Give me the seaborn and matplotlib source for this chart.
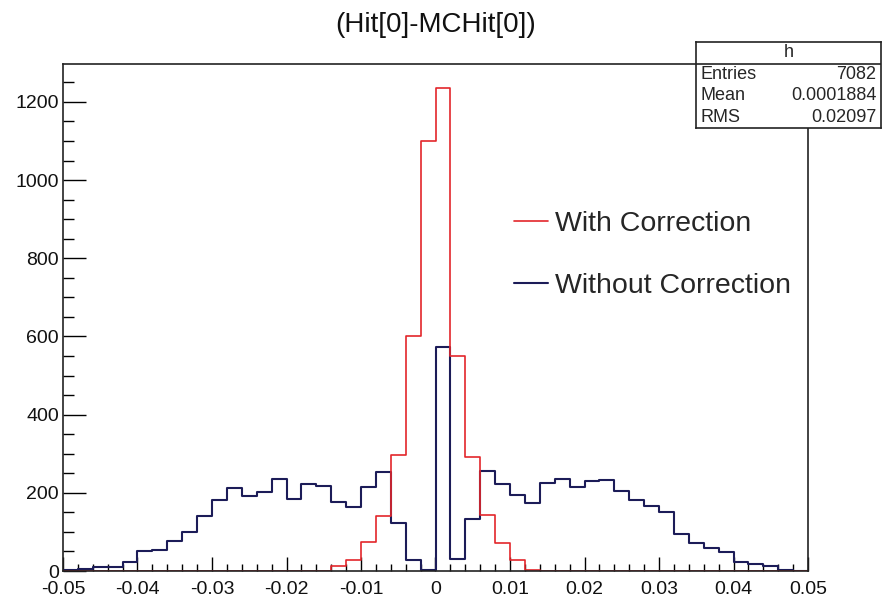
import numpy as np
import pandas as pd
import matplotlib
matplotlib.use("Agg")
import matplotlib.pyplot as plt
from matplotlib.ticker import MultipleLocator, FuncFormatter
import seaborn as sns

# binning of the histogram h (50 bins over [-0.05, 0.05])
x_lo, x_hi, n_bins = -0.05, 0.05, 50

# bin contents
with_corr = [0, 0, 0, 0, 0, 0, 0, 0, 0, 0,
             0, 0, 0, 0, 0, 0, 0, 0, 13, 27,
             74, 141, 297, 600, 1099, 1235, 549, 292, 144, 71,
             27, 3, 0, 0, 0, 0, 0, 0, 0, 0,
             0, 0, 0, 0, 0, 0, 0, 0, 0, 0]
without_corr = [2, 6, 9, 9, 22, 50, 54, 78, 99, 140,
                181, 212, 191, 202, 236, 184, 222, 218, 177, 164,
                216, 253, 123, 27, 2, 573, 31, 134, 257, 222,
                194, 174, 226, 236, 215, 229, 234, 205, 182, 167,
                150, 95, 72, 58, 48, 24, 18, 14, 3, 0]

title = "(Hit[0]-MCHit[0])"
series_names = ["With Correction", "Without Correction"]
stats_name = "h"
stats_rows = [("Entries", "7082"), ("Mean", "0.0001884"), ("RMS", "0.02097")]

sns.set_style("ticks")
plt.rcParams["font.family"] = ["Liberation Sans", "DejaVu Sans"]
plt.rcParams["axes.unicode_minus"] = False

edges = np.linspace(x_lo, x_hi, n_bins + 1)
centers = 0.5 * (edges[:-1] + edges[1:])
df = pd.DataFrame({"x": centers, "with": with_corr, "without": without_corr})

fig = plt.figure(figsize=(8.82, 6.0), dpi=100)
ax = fig.add_axes([63 / 882, 29 / 600, 745 / 882, 507 / 600])

red = "#e3262b"
navy = "#1c1c58"
sns.histplot(data=df, x="x", weights="without", bins=n_bins,
             binrange=(x_lo, x_hi), element="step",
             fill=False, color=navy, linewidth=1.5, ax=ax)
sns.histplot(data=df, x="x", weights="with", bins=n_bins,
             binrange=(x_lo, x_hi), element="step",
             fill=False, color=red, linewidth=1.2, ax=ax)

ax.set_xlim(x_lo, x_hi)
ax.set_ylim(0, 1297)
ax.set_xlabel("")
ax.set_ylabel("")


def xfmt(v, pos):
    v = round(v, 3)
    if abs(v) < 1e-9:
        return "0"
    return f"{v:g}"


ax.xaxis.set_major_locator(MultipleLocator(0.01))
ax.xaxis.set_minor_locator(MultipleLocator(0.002))
ax.yaxis.set_major_locator(MultipleLocator(200))
ax.yaxis.set_minor_locator(MultipleLocator(50))
ax.xaxis.set_major_formatter(FuncFormatter(xfmt))

ax.tick_params(axis="both", which="both", direction="in", width=1.0,
               color="black", labelsize=14, labelcolor="#111111")
ax.tick_params(axis="x", which="major", length=10, pad=7)
ax.tick_params(axis="x", which="minor", length=5)
ax.tick_params(axis="y", which="major", length=16.5, pad=3)
ax.tick_params(axis="y", which="minor", length=8)
ax.tick_params(top=False, right=False, which="both")
for s in ax.spines.values():
    s.set_visible(True)
    s.set_color("#222222")
    s.set_linewidth(1.2)

# legend (no frame, like TLegend with border 0)
handles = [plt.Line2D([], [], color=red, lw=1.2),
           plt.Line2D([], [], color=navy, lw=1.5)]
ax.legend(handles, series_names, loc="upper left",
          bbox_to_anchor=((514 - 63) / 745, (571 - 211) / 507),
          frameon=False, fontsize=20.5, handlelength=1.2, handletextpad=0.25,
          labelspacing=1.25, borderpad=0, borderaxespad=0)

fig.text(435.5 / 882, 1 - 25 / 600, title, ha="center", va="center",
         fontsize=20, color="#111111")

# stats box: title row + 3 rows of equal height
box_top, box_bot = 42, 128
sax = fig.add_axes([696 / 882, 1 - box_bot / 600, 185 / 882,
                    (box_bot - box_top) / 600])
sax.set_xlim(0, 1)
sax.set_ylim(0, 1)
sax.set_xticks([])
sax.set_yticks([])
sax.set_facecolor("white")
for s in sax.spines.values():
    s.set_color("#222222")
    s.set_linewidth(1.2)
n_rows = len(stats_rows) + 1
sax.axhline(1 - 1 / n_rows, color="#222222", lw=1.2)
sax.text(0.5, 1 - 0.5 / n_rows, stats_name, ha="center", va="center",
         fontsize=13)
for i, (k, v) in enumerate(stats_rows):
    yy = 1 - (i + 1.5) / n_rows
    sax.text(0.025, yy, k, ha="left", va="center", fontsize=13)
    sax.text(0.975, yy, v, ha="right", va="center", fontsize=13)

fig.savefig("out.png", dpi=100)
